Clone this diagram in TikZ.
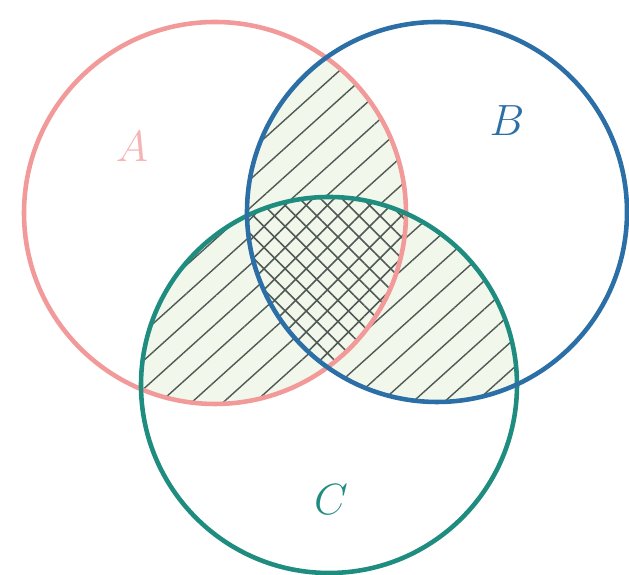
\documentclass[tikz,border=0pt]{standalone}
\usepackage{tikz}
\usetikzlibrary{patterns.meta}
\definecolor{setA}{HTML}{F29A9A}
\definecolor{setB}{HTML}{2C6FA6}
\definecolor{setC}{HTML}{1F8C80}
\definecolor{hatchcol}{HTML}{4F5A55}
\definecolor{hatchbg}{HTML}{F2F7EC}

\begin{document}
\begin{tikzpicture}[
        every node/.style={font=\fontsize{28}{30}\selectfont},
        ring/.style={line width=2.6pt},
        single/.style={pattern={Lines[angle=42,distance=12pt,line width=0.8pt]},
            pattern color=hatchcol},
        crossa/.style={pattern={Lines[angle=45,distance=8.5pt,line width=0.9pt]},
            pattern color=hatchcol},
        crossb/.style={pattern={Lines[angle=-45,distance=8.5pt,line width=0.9pt]},
            pattern color=hatchcol},
        setlbl/.style={inner sep=0pt}
    ]
    \useasboundingbox (0,0) rectangle (12.58,11.5);
    \coordinate (cA) at (4.30,7.24);
    \coordinate (cB) at (8.74,7.26);
    \coordinate (cC) at (6.58,3.80);
    \def\CircA{(cA) circle[radius=3.82]}
    \def\CircB{(cB) circle[radius=3.8]}
    \def\CircC{(cC) circle[radius=3.76]}

    % ================= pairwise intersections =========================
    \begin{scope}
        \clip \CircA;
        \fill[hatchbg] \CircB;
        \fill[single] \CircB;
    \end{scope}
    \begin{scope}
        \clip \CircA;
        \fill[hatchbg] \CircC;
        \fill[single] \CircC;
    \end{scope}
    \begin{scope}
        \clip \CircB;
        \fill[hatchbg] \CircC;
        \fill[single] \CircC;
    \end{scope}

    % ================= triple intersection: cross hatch ===============
    \begin{scope}
        \clip \CircA;
        \clip \CircB;
        \fill[hatchbg] \CircC;
        \fill[crossa] \CircC;
        \fill[crossb] \CircC;
    \end{scope}

    % circles
    \draw[ring, setA] \CircA;
    \draw[ring, setC] \CircC;
    \draw[ring, setB] \CircB;

    % labels
    \node[setlbl, text=setA!75] (lblA) at (2.64,8.56) {$A$};
    \node[setlbl, text=setB] (lblB) at (10.14,9.08) {$B$};
    \node[setlbl, text=setC] (lblC) at (6.62,1.50) {$C$};
\end{tikzpicture}
\end{document}
